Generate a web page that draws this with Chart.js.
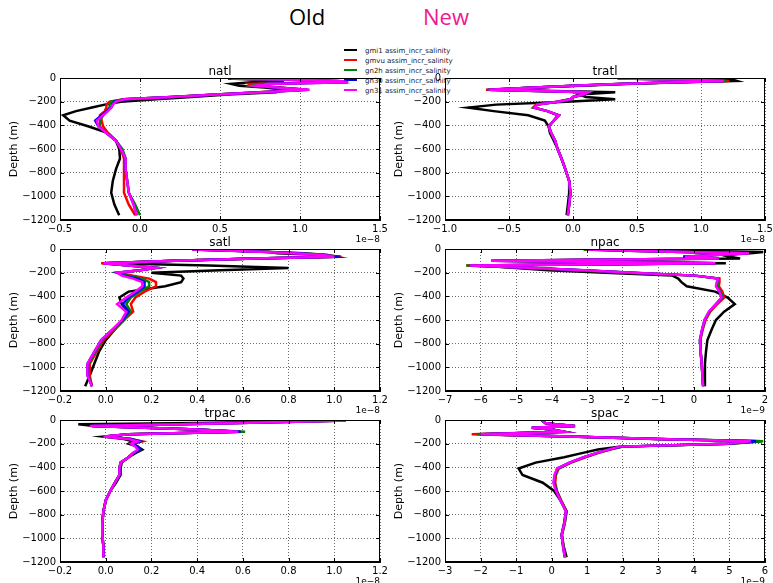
<!DOCTYPE html>
<html>
<head>
<meta charset="utf-8">
<script src="https://cdn.jsdelivr.net/npm/chart.js@4.4.0/dist/chart.umd.min.js"></script>
<style>
  html, body { margin: 0; padding: 0; }
  body { width: 773px; height: 583px; overflow: hidden; background: #fff; position: relative; font-family: "DejaVu Sans", sans-serif; }
  canvas { position: absolute; }
  .hdr { position: absolute; font-family: "Open Sans", sans-serif; font-size: 22px; line-height: 22px; white-space: nowrap; }
  #legend { position: absolute; left: 344px; top: 46px; font-size: 7px; line-height: 10px; color: #222; }
  #legend .row { height: 10px; white-space: nowrap; }
  #legend .sw { display: inline-block; width: 13px; height: 2.5px; vertical-align: middle; margin-right: 8px; position: relative; top: -1px; }
</style>
</head>
<body>
<div class="hdr" id="tOld" style="left:289px; top:5px; color:#000;">Old</div>
<div class="hdr" id="tNew" style="left:423px; top:5px; color:#f0168f;">New</div>
<div id="legend"></div>
<canvas id="c0"></canvas>
<canvas id="c1"></canvas>
<canvas id="c2"></canvas>
<canvas id="c3"></canvas>
<canvas id="c4"></canvas>
<canvas id="c5"></canvas>
<script>
// ---------------- data ----------------
const DEPTH = [-5,-15,-25,-35,-50,-65,-80,-100,-120,-140,-160,-180,-200,-225,-250,-280,-315,-360,-410,-465,-530,-600,-680,-770,-870,-970,-1070,-1160];

const SERIES_NAMES = ["gmi1 assim_incr_salinity","gmvu assim_incr_salinity","gn2h assim_incr_salinity","gn30 assim_incr_salinity","gn31 assim_incr_salinity"];
const SERIES_COLORS = ["#000000","#ff0000","#008000","#0000ff","#ff00ff"];

const REGIONS = ["natl","tratl","satl","npac","trpac","spac"];
const X_MIN  = [-0.5, -1.0, -0.2, -7, -0.2, -3];
const X_MAX  = [ 1.5,  1.5,  1.2,  2,  1.2,  6];
const X_STEP = [ 0.5,  0.5,  0.2,  1,  0.2,  1];
const X_DEC  = [ 1, 1, 1, 0, 1, 0];
const X_EXP  = ["1e\u22128","1e\u22128","1e\u22128","1e\u22129","1e\u22128","1e\u22129"];
const Y_TICKS = [0,-200,-400,-600,-800,-1000,-1200];

// natl (x1e-8)
const NATL_GMI1 = [0.55,0.75,0.90,0.70,0.57,0.62,0.78,0.90,0.85,0.55,0.32,0.10,-0.12,-0.22,-0.30,-0.40,-0.48,-0.44,-0.32,-0.20,-0.15,-0.13,-0.125,-0.15,-0.17,-0.18,-0.16,-0.13];
const NATL_GMVU = [0.57,0.92,1.20,1.22,0.68,0.70,0.88,1.02,0.74,0.47,0.19,-0.10,-0.19,-0.21,-0.21,-0.22,-0.25,-0.24,-0.23,-0.20,-0.15,-0.12,-0.10,-0.10,-0.10,-0.10,-0.07,-0.03];
const NATL_GN2H = [0.57,0.94,1.23,1.26,0.74,0.70,0.86,1.04,0.75,0.48,0.20,-0.10,-0.18,-0.19,-0.19,-0.21,-0.23,-0.25,-0.25,-0.21,-0.15,-0.11,-0.09,-0.09,-0.08,-0.07,-0.03,0.00];
const NATL_GN3O = [0.57,0.95,1.24,1.30,0.78,0.74,0.84,1.05,0.76,0.48,0.20,-0.10,-0.16,-0.17,-0.18,-0.21,-0.24,-0.28,-0.26,-0.21,-0.15,-0.12,-0.09,-0.09,-0.08,-0.07,-0.04,-0.02];
const NATL_GN3L = [0.57,0.95,1.25,1.30,0.80,0.72,0.85,1.06,0.76,0.48,0.20,-0.10,-0.15,-0.17,-0.18,-0.20,-0.23,-0.27,-0.26,-0.21,-0.15,-0.12,-0.09,-0.09,-0.08,-0.07,-0.04,-0.02];

// tratl (x1e-8)
const TRATL_GMI1 = [0.90,1.25,1.28,0.85,0.40,0.05,-0.30,-0.62,0.33,0.05,0.10,0.33,-0.05,-0.60,-0.82,-0.62,-0.35,-0.22,-0.19,-0.18,-0.15,-0.12,-0.09,-0.06,-0.03,-0.03,-0.04,-0.05];
const TRATL_GMVU = [0.35,0.97,1.22,0.82,0.36,0.01,-0.29,-0.68,0.12,0.08,0.01,-0.02,-0.12,-0.29,-0.31,-0.20,-0.12,-0.15,-0.19,-0.17,-0.14,-0.12,-0.09,-0.06,-0.03,-0.02,-0.03,-0.04];
const TRATL_GN2H = [0.35,0.96,1.20,0.81,0.35,0.00,-0.30,-0.67,0.12,0.08,0.00,-0.02,-0.12,-0.28,-0.31,-0.20,-0.11,-0.15,-0.19,-0.17,-0.14,-0.12,-0.09,-0.06,-0.03,-0.02,-0.03,-0.04];
const TRATL_GN3O = [0.35,0.95,1.18,0.80,0.35,0.00,-0.30,-0.66,0.12,0.08,0.00,-0.02,-0.12,-0.28,-0.30,-0.20,-0.11,-0.15,-0.19,-0.17,-0.14,-0.12,-0.09,-0.06,-0.03,-0.02,-0.03,-0.04];
const TRATL_GN3L = [0.35,0.95,1.18,0.80,0.35,0.00,-0.30,-0.66,0.12,0.08,0.00,-0.02,-0.12,-0.28,-0.30,-0.20,-0.11,-0.15,-0.19,-0.17,-0.14,-0.12,-0.09,-0.06,-0.03,-0.02,-0.03,-0.04];

// satl (x1e-8)
const SATL_GMI1 = [0.38,0.60,0.72,0.75,0.95,1.03,0.65,0.30,0.00,0.45,0.80,0.50,0.20,0.33,0.34,0.33,0.26,0.10,0.06,0.07,0.10,0.08,0.04,0.00,-0.03,-0.05,-0.07,-0.09];
const SATL_GMVU = [0.38,0.56,0.72,0.85,0.97,1.01,0.66,0.31,-0.02,0.10,0.22,0.15,0.06,0.12,0.19,0.22,0.22,0.17,0.13,0.11,0.12,0.08,0.04,-0.01,-0.04,-0.07,-0.07,-0.06];
const SATL_GN2H = [0.38,0.56,0.72,0.87,0.97,1.00,0.66,0.30,-0.01,0.10,0.22,0.15,0.05,0.10,0.16,0.19,0.19,0.15,0.11,0.09,0.11,0.08,0.035,-0.015,-0.045,-0.075,-0.075,-0.06];
const SATL_GN3O = [0.38,0.55,0.71,0.84,0.96,1.00,0.65,0.30,-0.01,0.10,0.22,0.15,0.05,0.08,0.14,0.17,0.17,0.14,0.10,0.075,0.10,0.075,0.03,-0.02,-0.05,-0.08,-0.08,-0.06];
const SATL_GN3L = [0.38,0.55,0.70,0.82,0.95,1.00,0.65,0.30,-0.01,0.10,0.22,0.15,0.05,0.07,0.12,0.16,0.16,0.13,0.09,0.05,0.09,0.07,0.03,-0.02,-0.05,-0.08,-0.08,-0.06];

// npac (x1e-9)
const NPAC_GMI1 = [-3.0,0.0,1.95,1.60,0.80,1.00,1.30,-5.40,0.90,-6.00,-5.00,-4.10,-2.50,-0.60,-0.44,-0.35,-0.20,0.60,0.95,1.15,0.85,0.62,0.50,0.38,0.34,0.31,0.31,0.31];
const NPAC_GMVU = [-3.1,-1.8,-0.3,1.50,0.60,-0.30,0.70,-5.60,0.60,-6.40,-4.60,-3.20,-1.80,0.00,0.72,0.72,0.70,0.80,0.85,0.66,0.46,0.33,0.25,0.18,0.19,0.22,0.24,0.26];
const NPAC_GN2H = [-3.1,-1.8,-0.3,1.50,0.60,-0.30,0.70,-5.70,0.60,-6.40,-4.60,-3.20,-1.80,0.00,0.70,0.68,0.66,0.75,0.82,0.63,0.44,0.31,0.24,0.17,0.19,0.22,0.24,0.26];
const NPAC_GN3O = [-2.9,-1.8,-0.3,1.50,0.60,-0.30,0.70,-5.70,0.60,-6.30,-4.50,-3.10,-1.70,0.05,0.68,0.65,0.63,0.72,0.78,0.62,0.43,0.30,0.23,0.17,0.19,0.22,0.24,0.26];
const NPAC_GN3L = [-3.0,-1.8,-0.3,1.55,0.60,-0.25,0.70,-5.70,0.60,-6.30,-4.50,-3.10,-1.70,0.05,0.68,0.65,0.62,0.72,0.78,0.62,0.42,0.30,0.23,0.17,0.19,0.22,0.24,0.26];

// trpac (x1e-8)
const TRPAC_GMI1 = [1.03,0.75,0.40,-0.12,-0.05,0.18,0.40,0.57,0.10,-0.01,0.08,0.12,0.10,0.14,0.16,0.13,0.10,0.07,0.065,0.065,0.045,0.02,0.00,-0.01,-0.015,-0.015,-0.01,-0.01];
const TRPAC_GMVU = [1.05,0.83,0.58,0.33,-0.06,0.17,0.40,0.59,0.10,0.00,0.11,0.16,0.12,0.14,0.15,0.12,0.10,0.065,0.06,0.06,0.04,0.02,0.00,-0.01,-0.015,-0.015,-0.01,-0.01];
const TRPAC_GN2H = [1.05,0.83,0.58,0.33,-0.06,0.17,0.40,0.61,0.10,0.00,0.11,0.15,0.12,0.14,0.15,0.12,0.10,0.065,0.06,0.06,0.04,0.02,0.00,-0.01,-0.015,-0.015,-0.01,-0.01];
const TRPAC_GN3O = [1.05,0.83,0.58,0.33,-0.06,0.17,0.40,0.59,0.10,0.00,0.11,0.15,0.12,0.14,0.15,0.12,0.10,0.065,0.06,0.06,0.04,0.02,0.00,-0.01,-0.015,-0.015,-0.01,-0.01];
const TRPAC_GN3L = [1.05,0.83,0.58,0.33,-0.07,0.17,0.40,0.58,0.10,-0.01,0.10,0.14,0.11,0.13,0.14,0.12,0.10,0.065,0.06,0.06,0.04,0.02,0.00,-0.01,-0.015,-0.015,-0.01,-0.01];

// spac (x1e-9)
const SPAC_GMI1 = [-0.28,-0.22,-0.18,0.10,0.65,-0.55,0.00,0.35,-2.00,0.50,3.00,5.90,4.90,1.90,1.30,0.85,0.35,-0.45,-0.93,-0.82,-0.25,0.07,0.25,0.40,0.35,0.28,0.34,0.42];
const SPAC_GMVU = [-0.28,-0.22,-0.18,0.10,0.66,-0.56,0.00,0.37,-2.25,0.45,2.90,5.85,5.00,2.00,1.65,1.30,0.95,0.55,0.20,0.12,0.10,0.15,0.27,0.42,0.37,0.29,0.33,0.38];
const SPAC_GN2H = [-0.28,-0.22,-0.18,0.10,0.66,-0.56,0.00,0.37,-2.10,0.50,3.00,5.95,5.00,2.00,1.62,1.28,0.93,0.52,0.18,0.10,0.08,0.14,0.26,0.42,0.37,0.29,0.33,0.38];
const SPAC_GN3O = [-0.28,-0.22,-0.18,0.10,0.65,-0.56,0.00,0.35,-2.00,0.50,3.00,5.75,4.95,1.95,1.60,1.25,0.90,0.50,0.16,0.09,0.06,0.13,0.25,0.41,0.36,0.28,0.32,0.37];
const SPAC_GN3L = [-0.28,-0.22,-0.18,0.10,0.65,-0.55,0.00,0.35,-2.00,0.50,3.00,5.60,4.90,1.90,1.60,1.25,0.90,0.50,0.15,0.08,0.05,0.12,0.25,0.40,0.36,0.28,0.32,0.37];

const PANEL_SERIES = [
  [NATL_GMI1, NATL_GMVU, NATL_GN2H, NATL_GN3O, NATL_GN3L],
  [TRATL_GMI1, TRATL_GMVU, TRATL_GN2H, TRATL_GN3O, TRATL_GN3L],
  [SATL_GMI1, SATL_GMVU, SATL_GN2H, SATL_GN3O, SATL_GN3L],
  [NPAC_GMI1, NPAC_GMVU, NPAC_GN2H, NPAC_GN3O, NPAC_GN3L],
  [TRPAC_GMI1, TRPAC_GMVU, TRPAC_GN2H, TRPAC_GN3O, TRPAC_GN3L],
  [SPAC_GMI1, SPAC_GMVU, SPAC_GN2H, SPAC_GN3O, SPAC_GN3L]
];

// ---------------- layout ----------------
const PLOT_LEFT = [60, 445];
const PLOT_TOP = [78, 249, 420];
const PLOT_W = 320, PLOT_H = 142;
const AX_W = 60, PAD_TOP = 22, PAD_RIGHT = 12, AX_H = 25;

Chart.defaults.font.family = '"DejaVu Sans", sans-serif';
Chart.defaults.color = '#000';

const MINUS = '\u2212';
function fmt(v, dec) {
  if (Math.abs(v) < 1e-9) v = 0;
  const s = Math.abs(v).toFixed(dec);
  return (v < 0 ? MINUS : '') + s;
}

// legend (figure-level, no frame)
const leg = document.getElementById('legend');
SERIES_NAMES.forEach((n, i) => {
  const r = document.createElement('div');
  r.className = 'row';
  r.innerHTML = '<span class="sw" style="background:' + SERIES_COLORS[i] + '"></span>' + n;
  leg.appendChild(r);
});

const framePlugin = {
  id: 'mplFrame',
  afterDraw(chart, args, opts) {
    const { ctx, chartArea: a } = chart;
    const xs = chart.scales.x, ys = chart.scales.y;
    ctx.save();
    ctx.strokeStyle = '#000';
    ctx.lineWidth = 1;
    ctx.beginPath();
    xs.ticks.forEach(t => {
      const px = Math.round(xs.getPixelForValue(t.value)) + 0.5;
      ctx.moveTo(px, a.bottom); ctx.lineTo(px, a.bottom - 4);
      ctx.moveTo(px, a.top); ctx.lineTo(px, a.top + 4);
    });
    ys.ticks.forEach(t => {
      const py = Math.round(ys.getPixelForValue(t.value)) + 0.5;
      ctx.moveTo(a.left, py); ctx.lineTo(a.left + 4, py);
      ctx.moveTo(a.right, py); ctx.lineTo(a.right - 4, py);
    });
    ctx.stroke();
    ctx.strokeRect(Math.round(a.left) + 0.5, Math.round(a.top) + 0.5, Math.round(a.width) - 1, Math.round(a.height) - 1);
    ctx.fillStyle = '#000';
    ctx.font = '12px "DejaVu Sans", sans-serif';
    ctx.textAlign = 'center';
    ctx.textBaseline = 'alphabetic';
    ctx.fillText(opts.text, (a.left + a.right) / 2, a.top - 3);
    ctx.restore();
  }
};

REGIONS.forEach((name, p) => {
  const col = p % 2, row = Math.floor(p / 2);
  const cv = document.getElementById('c' + p);
  const w = AX_W + PLOT_W + PAD_RIGHT, h = PAD_TOP + PLOT_H + AX_H;
  cv.width = w; cv.height = h;
  cv.style.width = w + 'px'; cv.style.height = h + 'px';
  cv.style.left = (PLOT_LEFT[col] - AX_W) + 'px';
  cv.style.top = (PLOT_TOP[row] - PAD_TOP) + 'px';

  const datasets = PANEL_SERIES[p].map((vals, s) => ({
    label: SERIES_NAMES[s],
    data: vals.map((v, k) => ({ x: v, y: DEPTH[k] })),
    borderColor: SERIES_COLORS[s],
    backgroundColor: SERIES_COLORS[s],
    borderWidth: 2.5,
    pointRadius: 0,
    showLine: true,
    fill: false,
    tension: 0,
    order: 5 - s
  }));

  new Chart(cv, {
    type: 'scatter',
    data: { datasets },
    options: {
      responsive: false,
      animation: false,
      devicePixelRatio: 1,
      layout: { padding: { top: PAD_TOP, right: PAD_RIGHT, left: 0, bottom: 0 } },
      plugins: { legend: { display: false }, tooltip: { enabled: false }, mplFrame: { text: name } },
      scales: {
        x: {
          type: 'linear', min: X_MIN[p], max: X_MAX[p],
          afterFit(s) { s.height = AX_H; },
          ticks: { stepSize: X_STEP[p], autoSkip: false, maxRotation: 0, padding: 3,
                   font: { size: 10 }, color: '#000',
                   callback: (v) => fmt(v, X_DEC[p]) },
          grid: { color: '#444', lineWidth: 0.8, drawTicks: false },
          border: { display: true, color: '#000', width: 1, dash: [1, 2] },
          title: { display: true, text: X_EXP[p], align: 'end', font: { size: 9 }, color: '#000', padding: 0 }
        },
        y: {
          type: 'linear', min: -1200, max: 0,
          afterFit(s) { s.width = AX_W; },
          afterBuildTicks(s) { s.ticks = Y_TICKS.slice().reverse().map(v => ({ value: v })); },
          ticks: { autoSkip: false, padding: 4, font: { size: 10 }, color: '#000',
                   callback: (v) => fmt(v, 0) },
          grid: { color: '#444', lineWidth: 0.8, drawTicks: false },
          border: { display: true, color: '#000', width: 1, dash: [1, 2] },
          title: { display: true, text: 'Depth (m)', font: { size: 11 }, color: '#000', padding: { top: 8, bottom: 0 } }
        }
      }
    },
    plugins: [framePlugin]
  });
});
</script>
</body>
</html>
